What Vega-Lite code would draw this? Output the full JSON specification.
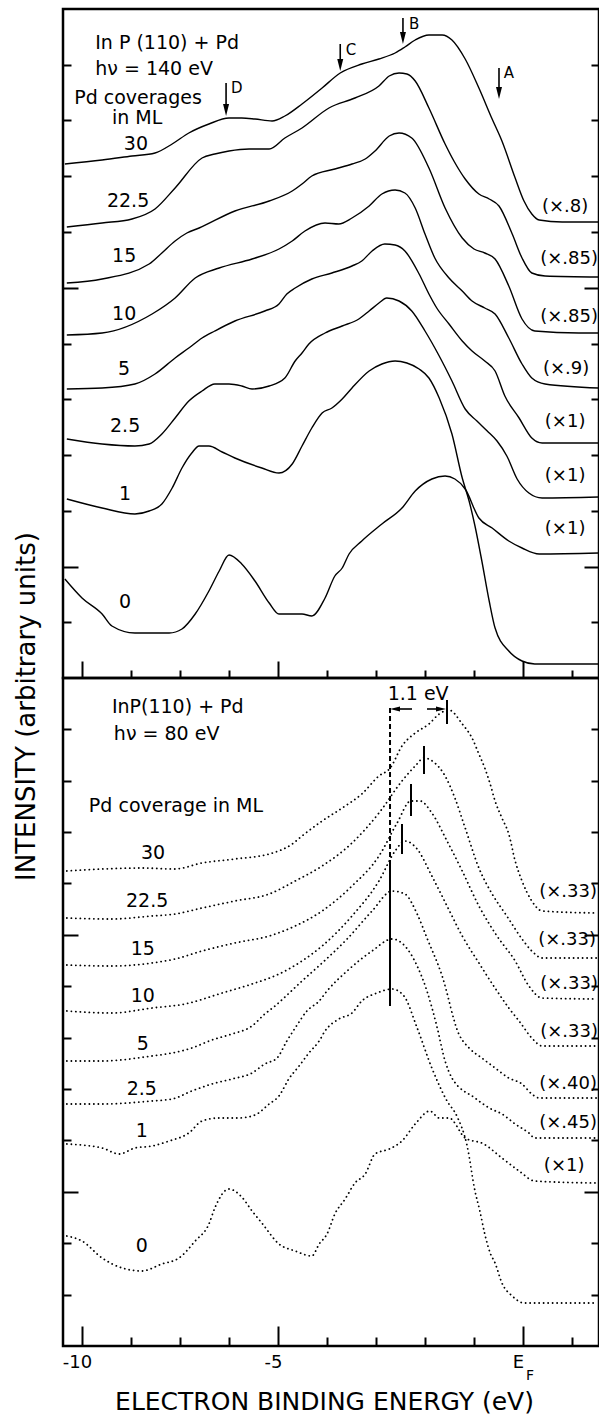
{
"$schema": "https://vega.github.io/schema/vega-lite/v6.json",
"padding": {"left": 11, "top": 7, "right": 0, "bottom": 0},
"spacing": 0,
"bounds": "flush",
"config": {"font": "DejaVu Sans", "view": {"stroke": "#000", "strokeWidth": 2.5},
  "axis": {"tickColor": "#000", "tickWidth": 2, "domain": false, "grid": false, "labelColor": "#000", "titleColor": "#000", "labelFont": "DejaVu Sans", "titleFont": "DejaVu Sans", "titleFontWeight": "normal"},
  "text": {"color": "#000", "font": "DejaVu Sans"}},
"resolve": {"scale": {"x": "independent", "y": "independent"}},
"datasets": {
"top": [
{"c":"30","e":-9.35,"y":514},{"c":"30","e":-8.59,"y":518},{"c":"30","e":-7.98,"y":522},{"c":"30","e":-7.51,"y":525},{"c":"30","e":-7.16,"y":534},{"c":"30","e":-6.82,"y":545},{"c":"30","e":-6.41,"y":554},{"c":"30","e":-6.0,"y":560},{"c":"30","e":-5.74,"y":560},{"c":"30","e":-5.47,"y":559},{"c":"30","e":-5.12,"y":557},{"c":"30","e":-4.86,"y":562},{"c":"30","e":-4.51,"y":574},{"c":"30","e":-4.10,"y":590},{"c":"30","e":-3.73,"y":605},{"c":"30","e":-3.29,"y":614},{"c":"30","e":-2.94,"y":619},{"c":"30","e":-2.61,"y":625},{"c":"30","e":-2.41,"y":631},{"c":"30","e":-2.20,"y":638},{"c":"30","e":-1.92,"y":643},{"c":"30","e":-1.65,"y":643},{"c":"30","e":-1.45,"y":638},{"c":"30","e":-1.18,"y":619},{"c":"30","e":-0.90,"y":590},{"c":"30","e":-0.63,"y":559},{"c":"30","e":-0.43,"y":537},{"c":"30","e":-0.16,"y":500},{"c":"30","e":0.02,"y":477},{"c":"30","e":0.18,"y":464},{"c":"30","e":0.33,"y":458},{"c":"30","e":0.80,"y":456},{"c":"30","e":1.54,"y":456},
{"c":"22.5","e":-9.31,"y":451},{"c":"22.5","e":-8.59,"y":455},{"c":"22.5","e":-7.98,"y":459},{"c":"22.5","e":-7.51,"y":469},{"c":"22.5","e":-7.10,"y":490},{"c":"22.5","e":-6.55,"y":520},{"c":"22.5","e":-6.29,"y":524},{"c":"22.5","e":-6.0,"y":527},{"c":"22.5","e":-5.59,"y":529},{"c":"22.5","e":-5.18,"y":529},{"c":"22.5","e":-4.86,"y":540},{"c":"22.5","e":-4.51,"y":550},{"c":"22.5","e":-3.96,"y":570},{"c":"22.5","e":-3.43,"y":580},{"c":"22.5","e":-2.94,"y":592},{"c":"22.5","e":-2.73,"y":602},{"c":"22.5","e":-2.53,"y":605},{"c":"22.5","e":-2.37,"y":604},{"c":"22.5","e":-2.20,"y":597},{"c":"22.5","e":-1.92,"y":570},{"c":"22.5","e":-1.59,"y":534},{"c":"22.5","e":-1.41,"y":517},{"c":"22.5","e":-1.18,"y":499},{"c":"22.5","e":-0.90,"y":484},{"c":"22.5","e":-0.69,"y":479},{"c":"22.5","e":-0.49,"y":472},{"c":"22.5","e":-0.22,"y":444},{"c":"22.5","e":-0.02,"y":420},{"c":"22.5","e":0.18,"y":405},{"c":"22.5","e":0.45,"y":402},{"c":"22.5","e":1.54,"y":401},
{"c":"15","e":-9.31,"y":395},{"c":"15","e":-8.59,"y":399},{"c":"15","e":-7.63,"y":414},{"c":"15","e":-7.37,"y":425},{"c":"15","e":-7.10,"y":437},{"c":"15","e":-6.86,"y":445},{"c":"15","e":-6.61,"y":450},{"c":"15","e":-5.88,"y":467},{"c":"15","e":-5.18,"y":477},{"c":"15","e":-4.71,"y":487},{"c":"15","e":-4.51,"y":494},{"c":"15","e":-4.31,"y":502},{"c":"15","e":-3.84,"y":509},{"c":"15","e":-3.49,"y":514},{"c":"15","e":-3.22,"y":519},{"c":"15","e":-3.02,"y":527},{"c":"15","e":-2.73,"y":542},{"c":"15","e":-2.53,"y":545},{"c":"15","e":-2.27,"y":540},{"c":"15","e":-1.92,"y":510},{"c":"15","e":-1.59,"y":470},{"c":"15","e":-1.24,"y":440},{"c":"15","e":-1.0,"y":429},{"c":"15","e":-0.78,"y":425},{"c":"15","e":-0.57,"y":419},{"c":"15","e":-0.29,"y":392},{"c":"15","e":-0.02,"y":359},{"c":"15","e":0.24,"y":347},{"c":"15","e":1.14,"y":345},{"c":"15","e":1.54,"y":345},
{"c":"10","e":-9.31,"y":343},{"c":"10","e":-8.59,"y":345},{"c":"10","e":-7.57,"y":364},{"c":"10","e":-7.10,"y":380},{"c":"10","e":-6.69,"y":400},{"c":"10","e":-6.20,"y":410},{"c":"10","e":-5.53,"y":419},{"c":"10","e":-4.98,"y":429},{"c":"10","e":-4.71,"y":437},{"c":"10","e":-4.45,"y":447},{"c":"10","e":-4.04,"y":455},{"c":"10","e":-3.76,"y":454},{"c":"10","e":-3.49,"y":460},{"c":"10","e":-3.14,"y":472},{"c":"10","e":-2.88,"y":484},{"c":"10","e":-2.61,"y":488},{"c":"10","e":-2.41,"y":485},{"c":"10","e":-2.20,"y":470},{"c":"10","e":-2.0,"y":444},{"c":"10","e":-1.80,"y":420},{"c":"10","e":-1.51,"y":400},{"c":"10","e":-1.24,"y":387},{"c":"10","e":-1.04,"y":377},{"c":"10","e":-0.78,"y":370},{"c":"10","e":-0.57,"y":364},{"c":"10","e":-0.29,"y":340},{"c":"10","e":-0.02,"y":314},{"c":"10","e":0.18,"y":300},{"c":"10","e":0.45,"y":294},{"c":"10","e":1.54,"y":290},
{"c":"5","e":-9.31,"y":289},{"c":"5","e":-8.59,"y":290},{"c":"5","e":-7.92,"y":294},{"c":"5","e":-7.51,"y":304},{"c":"5","e":-7.10,"y":320},{"c":"5","e":-6.82,"y":330},{"c":"5","e":-6.55,"y":340},{"c":"5","e":-6.29,"y":347},{"c":"5","e":-5.88,"y":357},{"c":"5","e":-5.27,"y":367},{"c":"5","e":-4.98,"y":374},{"c":"5","e":-4.82,"y":384},{"c":"5","e":-4.65,"y":390},{"c":"5","e":-4.31,"y":399},{"c":"5","e":-3.90,"y":405},{"c":"5","e":-3.49,"y":412},{"c":"5","e":-3.29,"y":417},{"c":"5","e":-3.08,"y":427},{"c":"5","e":-2.82,"y":434},{"c":"5","e":-2.61,"y":433},{"c":"5","e":-2.41,"y":427},{"c":"5","e":-2.12,"y":404},{"c":"5","e":-1.92,"y":384},{"c":"5","e":-1.76,"y":370},{"c":"5","e":-1.51,"y":354},{"c":"5","e":-1.24,"y":337},{"c":"5","e":-1.04,"y":327},{"c":"5","e":-0.78,"y":317},{"c":"5","e":-0.57,"y":307},{"c":"5","e":-0.37,"y":282},{"c":"5","e":-0.08,"y":260},{"c":"5","e":0.18,"y":240},{"c":"5","e":0.39,"y":235},{"c":"5","e":1.54,"y":235},
{"c":"2.5","e":-9.31,"y":239},{"c":"2.5","e":-8.59,"y":234},{"c":"2.5","e":-7.92,"y":232},{"c":"2.5","e":-7.63,"y":234},{"c":"2.5","e":-7.37,"y":244},{"c":"2.5","e":-7.10,"y":260},{"c":"2.5","e":-6.82,"y":277},{"c":"2.5","e":-6.55,"y":287},{"c":"2.5","e":-6.29,"y":294},{"c":"2.5","e":-6.0,"y":294},{"c":"2.5","e":-5.74,"y":292},{"c":"2.5","e":-5.53,"y":289},{"c":"2.5","e":-5.18,"y":292},{"c":"2.5","e":-4.86,"y":300},{"c":"2.5","e":-4.65,"y":317},{"c":"2.5","e":-4.51,"y":325},{"c":"2.5","e":-4.37,"y":334},{"c":"2.5","e":-4.04,"y":345},{"c":"2.5","e":-3.69,"y":352},{"c":"2.5","e":-3.35,"y":359},{"c":"2.5","e":-3.14,"y":367},{"c":"2.5","e":-2.94,"y":375},{"c":"2.5","e":-2.78,"y":380},{"c":"2.5","e":-2.53,"y":377},{"c":"2.5","e":-2.27,"y":367},{"c":"2.5","e":-2.0,"y":347},{"c":"2.5","e":-1.71,"y":322},{"c":"2.5","e":-1.45,"y":297},{"c":"2.5","e":-1.18,"y":269},{"c":"2.5","e":-0.94,"y":257},{"c":"2.5","e":-0.73,"y":247},{"c":"2.5","e":-0.53,"y":237},{"c":"2.5","e":-0.33,"y":222},{"c":"2.5","e":-0.12,"y":199},{"c":"2.5","e":0.12,"y":185},{"c":"2.5","e":0.39,"y":180},{"c":"2.5","e":1.54,"y":181},
{"c":"1","e":-9.31,"y":179},{"c":"1","e":-8.59,"y":170},{"c":"1","e":-7.92,"y":164},{"c":"1","e":-7.63,"y":167},{"c":"1","e":-7.37,"y":174},{"c":"1","e":-7.16,"y":190},{"c":"1","e":-6.96,"y":210},{"c":"1","e":-6.76,"y":225},{"c":"1","e":-6.61,"y":232},{"c":"1","e":-6.41,"y":232},{"c":"1","e":-6.14,"y":226},{"c":"1","e":-5.88,"y":220},{"c":"1","e":-5.33,"y":210},{"c":"1","e":-4.98,"y":205},{"c":"1","e":-4.71,"y":214},{"c":"1","e":-4.51,"y":232},{"c":"1","e":-4.31,"y":250},{"c":"1","e":-4.10,"y":265},{"c":"1","e":-3.90,"y":270},{"c":"1","e":-3.69,"y":279},{"c":"1","e":-3.49,"y":290},{"c":"1","e":-3.14,"y":307},{"c":"1","e":-2.88,"y":314},{"c":"1","e":-2.61,"y":317},{"c":"1","e":-2.37,"y":315},{"c":"1","e":-2.12,"y":309},{"c":"1","e":-1.92,"y":300},{"c":"1","e":-1.71,"y":280},{"c":"1","e":-1.45,"y":244},{"c":"1","e":-1.24,"y":200},{"c":"1","e":-1.10,"y":177},{"c":"1","e":-0.98,"y":152},{"c":"1","e":-0.84,"y":117},{"c":"1","e":-0.69,"y":77},{"c":"1","e":-0.57,"y":50},{"c":"1","e":-0.29,"y":27},{"c":"1","e":-0.02,"y":17},{"c":"1","e":0.24,"y":14},{"c":"1","e":1.54,"y":14},
{"c":"0","e":-9.35,"y":99},{"c":"0","e":-9.0,"y":80},{"c":"0","e":-8.59,"y":64},{"c":"0","e":-8.39,"y":52},{"c":"0","e":-7.92,"y":45},{"c":"0","e":-7.22,"y":45},{"c":"0","e":-6.96,"y":49},{"c":"0","e":-6.69,"y":64},{"c":"0","e":-6.41,"y":87},{"c":"0","e":-6.20,"y":107},{"c":"0","e":-6.0,"y":123},{"c":"0","e":-5.74,"y":114},{"c":"0","e":-5.47,"y":97},{"c":"0","e":-5.18,"y":75},{"c":"0","e":-4.98,"y":64},{"c":"0","e":-4.51,"y":64},{"c":"0","e":-4.31,"y":62},{"c":"0","e":-4.04,"y":80},{"c":"0","e":-3.84,"y":102},{"c":"0","e":-3.69,"y":110},{"c":"0","e":-3.55,"y":124},{"c":"0","e":-3.29,"y":137},{"c":"0","e":-2.88,"y":154},{"c":"0","e":-2.47,"y":170},{"c":"0","e":-2.20,"y":187},{"c":"0","e":-1.86,"y":199},{"c":"0","e":-1.59,"y":202},{"c":"0","e":-1.39,"y":199},{"c":"0","e":-1.18,"y":189},{"c":"0","e":-0.90,"y":160},{"c":"0","e":-0.63,"y":150},{"c":"0","e":-0.29,"y":137},{"c":"0","e":-0.02,"y":130},{"c":"0","e":0.33,"y":124},{"c":"0","e":1.54,"y":125}
],
"bottom": [
{"c":"30","e":-9.31,"y":475},{"c":"30","e":-8.59,"y":477},{"c":"30","e":-7.78,"y":478},{"c":"30","e":-7.10,"y":477},{"c":"30","e":-6.55,"y":483},{"c":"30","e":-5.88,"y":487},{"c":"30","e":-5.18,"y":492},{"c":"30","e":-4.71,"y":502},{"c":"30","e":-4.51,"y":510},{"c":"30","e":-4.10,"y":525},{"c":"30","e":-3.69,"y":538},{"c":"30","e":-3.29,"y":552},{"c":"30","e":-2.94,"y":570},{"c":"30","e":-2.71,"y":578},{"c":"30","e":-2.47,"y":600},{"c":"30","e":-2.20,"y":613},{"c":"30","e":-1.92,"y":622},{"c":"30","e":-1.71,"y":632},{"c":"30","e":-1.51,"y":636},{"c":"30","e":-1.24,"y":622},{"c":"30","e":-1.04,"y":608},{"c":"30","e":-0.90,"y":592},{"c":"30","e":-0.78,"y":578},{"c":"30","e":-0.67,"y":562},{"c":"30","e":-0.57,"y":545},{"c":"30","e":-0.43,"y":528},{"c":"30","e":-0.29,"y":512},{"c":"30","e":-0.16,"y":485},{"c":"30","e":-0.02,"y":465},{"c":"30","e":0.18,"y":445},{"c":"30","e":0.39,"y":435},{"c":"30","e":1.51,"y":433},
{"c":"22.5","e":-9.31,"y":428},{"c":"22.5","e":-8.39,"y":427},{"c":"22.5","e":-7.57,"y":430},{"c":"22.5","e":-7.10,"y":432},{"c":"22.5","e":-6.55,"y":438},{"c":"22.5","e":-5.88,"y":445},{"c":"22.5","e":-5.18,"y":452},{"c":"22.5","e":-4.65,"y":465},{"c":"22.5","e":-4.10,"y":480},{"c":"22.5","e":-3.49,"y":503},{"c":"22.5","e":-2.94,"y":533},{"c":"22.5","e":-2.47,"y":565},{"c":"22.5","e":-2.20,"y":580},{"c":"22.5","e":-2.02,"y":588},{"c":"22.5","e":-1.80,"y":583},{"c":"22.5","e":-1.59,"y":570},{"c":"22.5","e":-1.39,"y":548},{"c":"22.5","e":-1.18,"y":518},{"c":"22.5","e":-0.90,"y":478},{"c":"22.5","e":-0.63,"y":452},{"c":"22.5","e":-0.33,"y":430},{"c":"22.5","e":-0.02,"y":407},{"c":"22.5","e":0.18,"y":395},{"c":"22.5","e":0.39,"y":388},{"c":"22.5","e":1.51,"y":388},
{"c":"15","e":-9.31,"y":381},{"c":"15","e":-8.39,"y":380},{"c":"15","e":-7.57,"y":383},{"c":"15","e":-7.10,"y":387},{"c":"15","e":-6.55,"y":395},{"c":"15","e":-5.88,"y":403},{"c":"15","e":-5.18,"y":410},{"c":"15","e":-4.65,"y":420},{"c":"15","e":-4.10,"y":435},{"c":"15","e":-3.49,"y":460},{"c":"15","e":-2.94,"y":490},{"c":"15","e":-2.57,"y":523},{"c":"15","e":-2.29,"y":545},{"c":"15","e":-2.10,"y":545},{"c":"15","e":-1.86,"y":533},{"c":"15","e":-1.55,"y":505},{"c":"15","e":-1.24,"y":475},{"c":"15","e":-0.90,"y":440},{"c":"15","e":-0.53,"y":410},{"c":"15","e":-0.16,"y":385},{"c":"15","e":0.12,"y":360},{"c":"15","e":0.39,"y":348},{"c":"15","e":1.51,"y":347},
{"c":"10","e":-9.31,"y":335},{"c":"10","e":-8.39,"y":333},{"c":"10","e":-7.57,"y":338},{"c":"10","e":-6.90,"y":342},{"c":"10","e":-6.14,"y":353},{"c":"10","e":-5.53,"y":362},{"c":"10","e":-4.98,"y":372},{"c":"10","e":-4.51,"y":385},{"c":"10","e":-4.10,"y":400},{"c":"10","e":-3.49,"y":430},{"c":"10","e":-2.94,"y":465},{"c":"10","e":-2.61,"y":495},{"c":"10","e":-2.41,"y":505},{"c":"10","e":-2.16,"y":497},{"c":"10","e":-1.86,"y":470},{"c":"10","e":-1.55,"y":440},{"c":"10","e":-1.24,"y":410},{"c":"10","e":-0.90,"y":383},{"c":"10","e":-0.53,"y":355},{"c":"10","e":-0.29,"y":338},{"c":"10","e":-0.08,"y":325},{"c":"10","e":0.18,"y":308},{"c":"10","e":0.39,"y":300},{"c":"10","e":1.51,"y":300},
{"c":"5","e":-9.31,"y":285},{"c":"5","e":-8.59,"y":285},{"c":"5","e":-7.57,"y":290},{"c":"5","e":-7.16,"y":293},{"c":"5","e":-6.76,"y":298},{"c":"5","e":-6.35,"y":306},{"c":"5","e":-5.94,"y":312},{"c":"5","e":-5.53,"y":320},{"c":"5","e":-5.27,"y":332},{"c":"5","e":-5.06,"y":340},{"c":"5","e":-4.88,"y":348},{"c":"5","e":-4.51,"y":365},{"c":"5","e":-4.10,"y":383},{"c":"5","e":-3.59,"y":407},{"c":"5","e":-3.08,"y":435},{"c":"5","e":-2.67,"y":455},{"c":"5","e":-2.41,"y":452},{"c":"5","e":-2.16,"y":432},{"c":"5","e":-1.96,"y":408},{"c":"5","e":-1.65,"y":370},{"c":"5","e":-1.31,"y":312},{"c":"5","e":-1.10,"y":298},{"c":"5","e":-0.84,"y":288},{"c":"5","e":-0.57,"y":278},{"c":"5","e":-0.29,"y":268},{"c":"5","e":-0.02,"y":262},{"c":"5","e":0.18,"y":252},{"c":"5","e":0.33,"y":248},{"c":"5","e":1.51,"y":248},
{"c":"2.5","e":-9.31,"y":242},{"c":"2.5","e":-8.59,"y":242},{"c":"2.5","e":-7.57,"y":245},{"c":"2.5","e":-7.16,"y":247},{"c":"2.5","e":-6.76,"y":255},{"c":"2.5","e":-6.35,"y":262},{"c":"2.5","e":-5.94,"y":267},{"c":"2.5","e":-5.53,"y":273},{"c":"2.5","e":-5.27,"y":282},{"c":"2.5","e":-5.02,"y":288},{"c":"2.5","e":-4.82,"y":305},{"c":"2.5","e":-4.65,"y":318},{"c":"2.5","e":-4.41,"y":335},{"c":"2.5","e":-4.16,"y":345},{"c":"2.5","e":-4.0,"y":355},{"c":"2.5","e":-3.59,"y":375},{"c":"2.5","e":-3.08,"y":395},{"c":"2.5","e":-2.67,"y":407},{"c":"2.5","e":-2.41,"y":400},{"c":"2.5","e":-2.16,"y":380},{"c":"2.5","e":-1.96,"y":355},{"c":"2.5","e":-1.76,"y":320},{"c":"2.5","e":-1.59,"y":285},{"c":"2.5","e":-1.45,"y":268},{"c":"2.5","e":-0.98,"y":248},{"c":"2.5","e":-0.69,"y":238},{"c":"2.5","e":-0.43,"y":232},{"c":"2.5","e":-0.16,"y":222},{"c":"2.5","e":0.12,"y":213},{"c":"2.5","e":0.24,"y":208},{"c":"2.5","e":1.51,"y":208},
{"c":"1","e":-9.31,"y":202},{"c":"1","e":-8.59,"y":198},{"c":"1","e":-8.24,"y":192},{"c":"1","e":-7.92,"y":198},{"c":"1","e":-7.57,"y":200},{"c":"1","e":-7.22,"y":205},{"c":"1","e":-6.82,"y":213},{"c":"1","e":-6.55,"y":225},{"c":"1","e":-6.20,"y":228},{"c":"1","e":-5.80,"y":228},{"c":"1","e":-5.47,"y":231},{"c":"1","e":-5.18,"y":242},{"c":"1","e":-4.98,"y":250},{"c":"1","e":-4.78,"y":267},{"c":"1","e":-4.57,"y":280},{"c":"1","e":-4.37,"y":293},{"c":"1","e":-4.16,"y":305},{"c":"1","e":-4.04,"y":315},{"c":"1","e":-3.76,"y":327},{"c":"1","e":-3.49,"y":333},{"c":"1","e":-3.29,"y":345},{"c":"1","e":-2.98,"y":353},{"c":"1","e":-2.67,"y":357},{"c":"1","e":-2.43,"y":350},{"c":"1","e":-2.16,"y":318},{"c":"1","e":-1.86,"y":278},{"c":"1","e":-1.55,"y":245},{"c":"1","e":-1.35,"y":230},{"c":"1","e":-1.14,"y":200},{"c":"1","e":-0.98,"y":155},{"c":"1","e":-0.88,"y":135},{"c":"1","e":-0.78,"y":112},{"c":"1","e":-0.67,"y":93},{"c":"1","e":-0.57,"y":83},{"c":"1","e":-0.43,"y":63},{"c":"1","e":-0.22,"y":50},{"c":"1","e":0.02,"y":43},{"c":"1","e":1.51,"y":43},
{"c":"0","e":-9.31,"y":110},{"c":"0","e":-9.0,"y":105},{"c":"0","e":-8.59,"y":88},{"c":"0","e":-8.18,"y":78},{"c":"0","e":-7.78,"y":75},{"c":"0","e":-7.37,"y":82},{"c":"0","e":-7.02,"y":88},{"c":"0","e":-6.69,"y":105},{"c":"0","e":-6.41,"y":122},{"c":"0","e":-6.29,"y":138},{"c":"0","e":-6.0,"y":157},{"c":"0","e":-5.74,"y":149},{"c":"0","e":-5.53,"y":135},{"c":"0","e":-5.33,"y":123},{"c":"0","e":-4.98,"y":102},{"c":"0","e":-4.65,"y":95},{"c":"0","e":-4.31,"y":90},{"c":"0","e":-4.16,"y":102},{"c":"0","e":-4.0,"y":112},{"c":"0","e":-3.84,"y":132},{"c":"0","e":-3.63,"y":147},{"c":"0","e":-3.43,"y":163},{"c":"0","e":-3.22,"y":172},{"c":"0","e":-3.02,"y":192},{"c":"0","e":-2.73,"y":197},{"c":"0","e":-2.47,"y":205},{"c":"0","e":-2.20,"y":222},{"c":"0","e":-1.90,"y":235},{"c":"0","e":-1.71,"y":228},{"c":"0","e":-1.51,"y":228},{"c":"0","e":-1.18,"y":208},{"c":"0","e":-0.80,"y":202},{"c":"0","e":-0.43,"y":188},{"c":"0","e":-0.08,"y":175},{"c":"0","e":0.24,"y":165},{"c":"0","e":1.51,"y":163}
],
"topArrows": [{"p":"D","e":-6.06,"y1":595,"y2":570,"tip":568},{"p":"C","e":-3.73,"y1":634,"y2":615,"tip":613},{"p":"B","e":-2.45,"y1":660,"y2":642,"tip":640},{"p":"A","e":-0.49,"y1":610,"y2":587,"tip":585}],
"topArrowText": [{"t":"D","e":-5.84,"y":590},{"t":"C","e":-3.51,"y":628},{"t":"B","e":-2.22,"y":654},{"t":"A","e":-0.29,"y":605}],
"topLeftText": [{"t":"In P (110) + Pd","e":-8.73,"y":635},{"t":"hν = 140 eV","e":-8.73,"y":609},{"t":"Pd coverages","e":-9.16,"y":580},{"t":"in ML","e":-8.39,"y":560}],
"topCov": [{"t":"30","e":-7.90,"y":534},{"t":"22.5","e":-8.06,"y":477},{"t":"15","e":-8.14,"y":422},{"t":"10","e":-8.14,"y":364},{"t":"5","e":-8.14,"y":309},{"t":"2.5","e":-8.12,"y":252},{"t":"1","e":-8.12,"y":184},{"t":"0","e":-8.12,"y":76}],
"topScale": [{"t":"(×.8)","e":0.86,"y":471},{"t":"(×.85)","e":0.94,"y":419},{"t":"(×.85)","e":0.94,"y":361},{"t":"(×.9)","e":0.88,"y":309},{"t":"(×1)","e":0.86,"y":256},{"t":"(×1)","e":0.86,"y":202},{"t":"(×1)","e":0.86,"y":149}],
"bottomLeftText": [{"t":"InP(110) + Pd","e":-8.39,"y":639},{"t":"hν = 80 eV","e":-8.35,"y":612},{"t":"Pd coverage in ML","e":-8.86,"y":540}],
"bottomCov": [{"t":"30","e":-7.55,"y":493},{"t":"22.5","e":-7.67,"y":445},{"t":"15","e":-7.76,"y":397},{"t":"10","e":-7.76,"y":350},{"t":"5","e":-7.76,"y":302},{"t":"2.5","e":-7.78,"y":257},{"t":"1","e":-7.78,"y":215},{"t":"0","e":-7.78,"y":100},{"t":"1.1 eV","e":-2.14,"y":652}],
"bottomScale": [{"t":"(×.33)","e":0.92,"y":454},{"t":"(×.33)","e":0.90,"y":406},{"t":"(×.33)","e":0.94,"y":362},{"t":"(×.33)","e":0.94,"y":314},{"t":"(×.40)","e":0.92,"y":262},{"t":"(×.45)","e":0.92,"y":223},{"t":"(×1)","e":0.84,"y":180}],
"bDashed": [{"e":-2.714,"y1":638,"y2":482}],
"bSolid": [{"e":-2.714,"y1":482,"y2":340},{"e":-1.551,"y1":646,"y2":622},{"e":-2.02,"y1":600,"y2":572},{"e":-2.286,"y1":562,"y2":530},{"e":-2.469,"y1":522,"y2":492}],
"bArrows": [{"e1":-2.612,"e2":-2.265,"y":637},{"e1":-1.959,"e2":-1.673,"y":637}],
"bHeadL": [{"e":-2.612,"y":637}],
"bHeadR": [{"e":-1.673,"y":637}],
"bSub": [{"t":"F","e":0,"y":0}]
},
"vconcat": [
{
"width": 536, "height": 669,
"resolve": {"axis": {"y": "independent"}},
"layer": [
{"data": {"name": "top"},
 "mark": {"type": "line", "color": "#000", "strokeWidth": 1.4, "interpolate": "monotone"},
 "encoding": {
  "x": {"field": "e", "type": "quantitative", "scale": {"domain": [-9.388, 1.551], "nice": false, "zero": false},
        "axis": {"orient": "bottom", "labels": false, "title": null, "values": [-9,-8,-7,-6,-5,-4,-3,-2,-1,0,1],
                 "tickSize": {"condition": {"test": "datum.value == -9 || datum.value == -5 || datum.value == 0", "value": -17}, "value": -8}}},
  "y": {"field": "y", "type": "quantitative", "scale": {"domain": [0, 669], "nice": false, "zero": false},
        "axis": {"orient": "left", "labels": false, "title": null, "values": [55.75,111.5,167.25,223,278.75,334.5,390.25,446,501.75,557.5,613.25],
                 "tickSize": {"condition": {"test": "datum.value == 111.5 || datum.value == 390.25", "value": -15}, "value": -8}}},
  "detail": {"field": "c"}
 }},
{"data": {"name": "topArrows"},
 "mark": {"type": "rule", "color": "#000", "strokeWidth": 1.6},
 "encoding": {"x": {"field": "e", "type": "quantitative"}, "y": {"field": "y1", "type": "quantitative", "axis": null}, "y2": {"field": "y2"}}},
{"data": {"name": "topArrows"},
 "mark": {"type": "point", "shape": "M-0.5,-1L0.5,-1L0,1Z", "filled": true, "color": "#000", "opacity": 1, "size": 144},
 "encoding": {"x": {"field": "e", "type": "quantitative"}, "y": {"field": "tip", "type": "quantitative", "axis": null}}},
{"data": {"name": "topArrowText"},
 "mark": {"type": "text", "fontSize": 15, "align": "center", "baseline": "middle"},
 "encoding": {"x": {"field": "e", "type": "quantitative"}, "y": {"field": "y", "type": "quantitative", "axis": null}, "text": {"field": "t"}}},
{"data": {"name": "topLeftText"},
 "mark": {"type": "text", "fontSize": 19, "align": "left", "baseline": "middle"},
 "encoding": {"x": {"field": "e", "type": "quantitative"}, "y": {"field": "y", "type": "quantitative", "axis": null}, "text": {"field": "t"}}},
{"data": {"name": "topCov"},
 "mark": {"type": "text", "fontSize": 19, "align": "center", "baseline": "middle"},
 "encoding": {"x": {"field": "e", "type": "quantitative"}, "y": {"field": "y", "type": "quantitative", "axis": null}, "text": {"field": "t"}}},
{"data": {"name": "topScale"},
 "mark": {"type": "text", "fontSize": 18, "align": "center", "baseline": "middle"},
 "encoding": {"x": {"field": "e", "type": "quantitative"},
  "y": {"field": "y", "type": "quantitative",
        "axis": {"orient": "right", "labels": false, "title": null, "values": [55.75,111.5,167.25,223,278.75,334.5,390.25,446,501.75,557.5,613.25],
                 "tickSize": {"condition": {"test": "datum.value == 111.5 || datum.value == 390.25", "value": -15}, "value": -8}}},
  "text": {"field": "t"}}}
]
},
{
"width": 536, "height": 668,
"resolve": {"axis": {"y": "independent"}},
"layer": [
{"data": {"name": "bottom"},
 "mark": {"type": "line", "color": "#000", "strokeWidth": 1.8, "strokeDash": [0.1, 4.4], "strokeCap": "round", "interpolate": "monotone"},
 "encoding": {
  "x": {"field": "e", "type": "quantitative", "scale": {"domain": [-9.388, 1.551], "nice": false, "zero": false},
        "axis": {"orient": "bottom", "values": [-9,-8,-7,-6,-5,-4,-3,-2,-1,0,1],
                 "labelExpr": "datum.value == -9 ? '-10' : datum.value == -5 ? '-5' : datum.value == 0 ? 'E' : ''",
                 "labelFontSize": 18, "labelPadding": 27, "labelOffset": -5, "labelOverlap": false, "labelFlush": false,
                 "tickSize": {"condition": {"test": "datum.value == -9 || datum.value == -5 || datum.value == 0", "value": -20}, "value": -9},
                 "title": "ELECTRON  BINDING  ENERGY  (eV)", "titleFontSize": 25, "titleX": 261, "titleY": 63, "titleBaseline": "alphabetic", "titleAlign": "center"}},
  "y": {"field": "y", "type": "quantitative", "scale": {"domain": [0, 668], "nice": false, "zero": false},
        "axis": {"orient": "left", "labels": false, "values": [51.4,102.8,154.2,205.6,257,308.4,359.8,411.2,462.6,514,565.4,616.8],
                 "tickSize": {"condition": {"test": "datum.value == 154.2 || datum.value == 411.2", "value": -15}, "value": -8},
                 "title": "INTENSITY  (arbitrary  units)", "titleFontSize": 26, "titleX": -29, "titleY": 28, "titleAngle": 270, "titleBaseline": "alphabetic", "titleAlign": "center"}},
  "detail": {"field": "c"}
 }},
{"data": {"name": "bDashed"},
 "mark": {"type": "rule", "color": "#000", "strokeWidth": 2, "strokeDash": [5, 3]},
 "encoding": {"x": {"field": "e", "type": "quantitative"}, "y": {"field": "y1", "type": "quantitative", "axis": null}, "y2": {"field": "y2"}}},
{"data": {"name": "bSolid"},
 "mark": {"type": "rule", "color": "#000", "strokeWidth": 2},
 "encoding": {"x": {"field": "e", "type": "quantitative"}, "y": {"field": "y1", "type": "quantitative", "axis": null}, "y2": {"field": "y2"}}},
{"data": {"name": "bArrows"},
 "mark": {"type": "rule", "color": "#000", "strokeWidth": 1.6},
 "encoding": {"x": {"field": "e1", "type": "quantitative"}, "x2": {"field": "e2"}, "y": {"field": "y", "type": "quantitative", "axis": null}}},
{"data": {"name": "bHeadL"},
 "mark": {"type": "point", "shape": "M1,-0.5L1,0.5L-1,0Z", "filled": true, "color": "#000", "opacity": 1, "size": 100},
 "encoding": {"x": {"field": "e", "type": "quantitative"}, "y": {"field": "y", "type": "quantitative", "axis": null}}},
{"data": {"name": "bHeadR"},
 "mark": {"type": "point", "shape": "M-1,-0.5L-1,0.5L1,0Z", "filled": true, "color": "#000", "opacity": 1, "size": 100},
 "encoding": {"x": {"field": "e", "type": "quantitative"}, "y": {"field": "y", "type": "quantitative", "axis": null}}},
{"data": {"name": "bottomLeftText"},
 "mark": {"type": "text", "fontSize": 19, "align": "left", "baseline": "middle"},
 "encoding": {"x": {"field": "e", "type": "quantitative"}, "y": {"field": "y", "type": "quantitative", "axis": null}, "text": {"field": "t"}}},
{"data": {"name": "bottomCov"},
 "mark": {"type": "text", "fontSize": 19, "align": "center", "baseline": "middle"},
 "encoding": {"x": {"field": "e", "type": "quantitative"}, "y": {"field": "y", "type": "quantitative", "axis": null}, "text": {"field": "t"}}},
{"data": {"name": "bSub"},
 "mark": {"type": "text", "fontSize": 14, "align": "center", "baseline": "middle", "dx": 7, "dy": 30},
 "encoding": {"x": {"field": "e", "type": "quantitative"}, "y": {"field": "y", "type": "quantitative", "axis": null}, "text": {"field": "t"}}},
{"data": {"name": "bottomScale"},
 "mark": {"type": "text", "fontSize": 18, "align": "center", "baseline": "middle"},
 "encoding": {"x": {"field": "e", "type": "quantitative"},
  "y": {"field": "y", "type": "quantitative",
        "axis": {"orient": "right", "labels": false, "title": null, "values": [51.4,102.8,154.2,205.6,257,308.4,359.8,411.2,462.6,514,565.4,616.8],
                 "tickSize": {"condition": {"test": "datum.value == 154.2 || datum.value == 411.2", "value": -15}, "value": -8}}},
  "text": {"field": "t"}}}
]
}
]
}
